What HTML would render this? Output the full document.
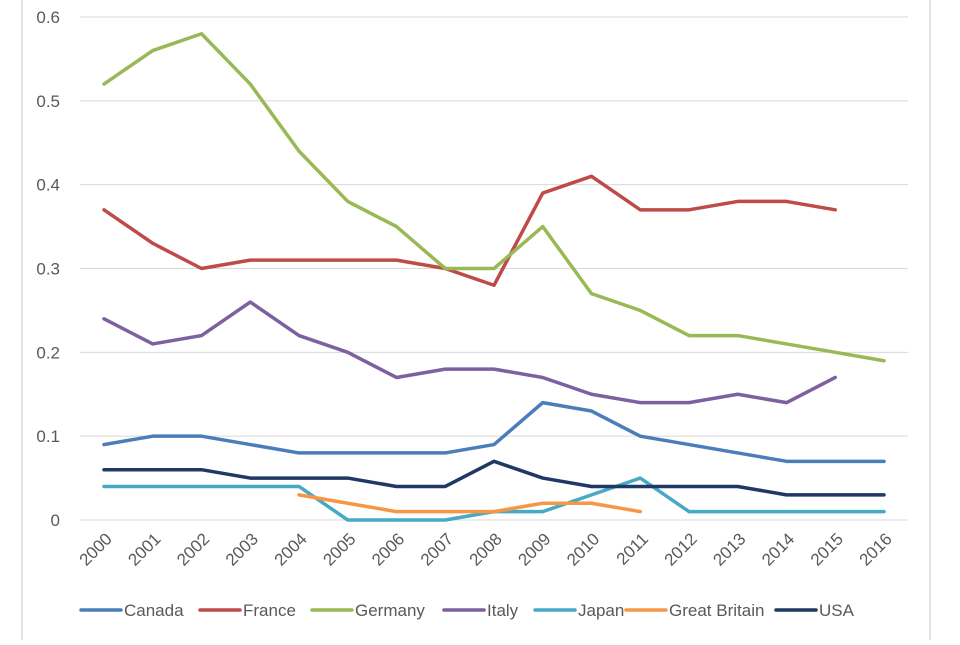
<!DOCTYPE html>
<html><head><meta charset="utf-8"><style>
body{margin:0;background:#fff;font-family:"Liberation Sans",sans-serif;}
svg text{font-family:"Liberation Sans",sans-serif;fill:#595959;}
</style></head><body>
<svg id="chart" width="960" height="640" xmlns="http://www.w3.org/2000/svg">
<line x1="22" y1="0" x2="22" y2="640" stroke="#d9d9d9" stroke-width="1.5"/>
<line x1="930" y1="0" x2="930" y2="640" stroke="#d9d9d9" stroke-width="1.5"/>
<g id="grid"></g><g id="series"></g><g id="xlabels"></g><g id="legend"></g>
</svg>
<script>
const years=[2000,2001,2002,2003,2004,2005,2006,2007,2008,2009,2010,2011,2012,2013,2014,2015,2016];
const yTicks=[0,0.1,0.2,0.3,0.4,0.5,0.6];
const yTickLabels=["0","0.1","0.2","0.3","0.4","0.5","0.6"];
const seriesNames=["Canada","France","Germany","Italy","Japan","Great Britain","USA"];
const canada=[.09,.10,.10,.09,.08,.08,.08,.08,.09,.14,.13,.10,.09,.08,.07,.07,.07];
const france=[.37,.33,.30,.31,.31,.31,.31,.30,.28,.39,.41,.37,.37,.38,.38,.37,null];
const germany=[.52,.56,.58,.52,.44,.38,.35,.30,.30,.35,.27,.25,.22,.22,.21,.20,.19];
const italy=[.24,.21,.22,.26,.22,.20,.17,.18,.18,.17,.15,.14,.14,.15,.14,.17,null];
const japan=[.04,.04,.04,.04,.04,0,0,0,.01,.01,.03,.05,.01,.01,.01,.01,.01];
const greatBritain=[null,null,null,null,.03,.02,.01,.01,.01,.02,.02,.01,null,null,null,null,null];
const usa=[.06,.06,.06,.05,.05,.05,.04,.04,.07,.05,.04,.04,.04,.04,.03,.03,.03];
const colors=["#4a7ebb","#be4b48","#98b954","#7d60a0","#46aac5","#f79646","#1f3864"];
const NS="http://www.w3.org/2000/svg";
const X0=104,X1=884,Y0=520,Y1=17;
const x=i=>X0+(X1-X0)*i/(years.length-1);
const y=v=>Y0-(Y0-Y1)*v/0.6;
function mk(t,a,p){const e=document.createElementNS(NS,t);for(const k in a)e.setAttribute(k,a[k]);p.appendChild(e);return e;}
const grid=document.getElementById('grid');
yTicks.forEach((t,i)=>{
 const l=mk('line',{x1:80,x2:908,y1:y(t),y2:y(t),stroke:'#d9d9d9','stroke-width':1},grid);
 
 
 const tx=mk('text',{x:60,y:y(t)+6,'text-anchor':'end','font-size':17},grid);
 tx.textContent=yTickLabels[i];
 
 
});
const xl=document.getElementById('xlabels');
years.forEach((yr,i)=>{
 const t=mk('text',{x:x(i)+9,y:540,'text-anchor':'end','font-size':17,transform:`rotate(-45 ${x(i)+9} 540)`},xl);
 t.textContent=yr;
 
 
});
const all=[canada,france,germany,italy,japan,greatBritain,usa];
const sg=document.getElementById('series');
all.forEach((d,s)=>{
 let pts=[];d.forEach((v,i)=>{if(v!==null)pts.push(x(i)+','+y(v));});
 const p=mk('polyline',{points:pts.join(' '),fill:'none',stroke:colors[s],'stroke-width':3.5,'stroke-linejoin':'round','stroke-linecap':'round'},sg);
 
 
});
const lg=document.getElementById('legend');
const lx=[81,200,312,444,535,626,776];
seriesNames.forEach((n,s)=>{
 const g=mk('g',{},lg);
 
 
 mk('line',{x1:lx[s],x2:lx[s]+40,y1:610,y2:610,stroke:colors[s],'stroke-width':3.5,'stroke-linecap':'round'},g);
 const t=mk('text',{x:lx[s]+43,y:616,'font-size':17},g);
 t.textContent=n;
});
</script>
</body></html>
